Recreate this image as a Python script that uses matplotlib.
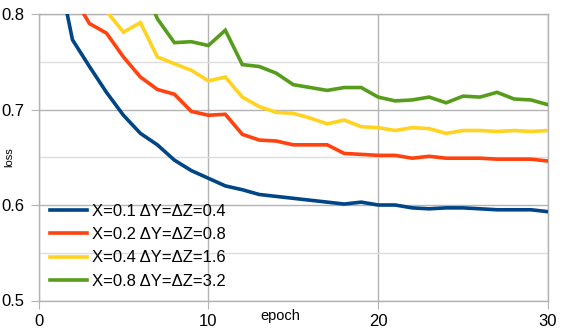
import matplotlib
matplotlib.use("Agg")
import matplotlib.pyplot as plt
from matplotlib.ticker import MultipleLocator

plt.rcParams['font.family'] = ['Liberation Sans', 'DejaVu Sans']

epochs = list(range(1, 31))

loss_01 = [0.860, 0.773, 0.745, 0.718, 0.694, 0.675, 0.663, 0.647, 0.636, 0.628,
           0.620, 0.616, 0.611, 0.609, 0.607, 0.605, 0.603, 0.601, 0.603, 0.600,
           0.600, 0.597, 0.596, 0.597, 0.597, 0.596, 0.595, 0.595, 0.595, 0.593]
loss_02 = [0.880, 0.820, 0.790, 0.780, 0.755, 0.734, 0.721, 0.716, 0.698, 0.694,
           0.695, 0.674, 0.668, 0.667, 0.663, 0.663, 0.663, 0.654, 0.653, 0.652,
           0.652, 0.649, 0.651, 0.649, 0.649, 0.649, 0.648, 0.648, 0.648, 0.646]
loss_04 = [0.920, 0.870, 0.830, 0.803, 0.781, 0.791, 0.755, 0.748, 0.741, 0.730,
           0.734, 0.713, 0.703, 0.697, 0.696, 0.691, 0.685, 0.689, 0.682, 0.681,
           0.678, 0.681, 0.680, 0.675, 0.678, 0.678, 0.677, 0.678, 0.677, 0.678]
loss_08 = [0.980, 0.950, 0.920, 0.890, 0.860, 0.837, 0.795, 0.770, 0.771, 0.767,
           0.783, 0.747, 0.745, 0.738, 0.726, 0.723, 0.720, 0.723, 0.723, 0.713,
           0.709, 0.710, 0.713, 0.707, 0.714, 0.713, 0.718, 0.711, 0.710, 0.705]

labels = ["X=0.1 ΔY=ΔZ=0.4", "X=0.2 ΔY=ΔZ=0.8",
          "X=0.4 ΔY=ΔZ=1.6", "X=0.8 ΔY=ΔZ=3.2"]
colors = ["#004586", "#ff420e", "#ffd320", "#579d1c"]

fig = plt.figure(figsize=(5.68, 3.32), dpi=100)
ax = fig.add_axes([38.5 / 568, 31.5 / 332, 509.5 / 568, 286.5 / 332])

for ys, lab, c in zip([loss_01, loss_02, loss_04, loss_08], labels, colors):
    ax.plot(epochs, ys, color=c, linewidth=2.6, label=lab,
            solid_joinstyle='miter', zorder=3)

ax.set_xlim(0, 30)
ax.set_ylim(0.5, 0.8)
ax.xaxis.set_major_locator(MultipleLocator(10))
ax.yaxis.set_major_locator(MultipleLocator(0.1))
ax.yaxis.set_minor_locator(MultipleLocator(0.05))
ax.grid(which='major', color='#b3b3b3', linewidth=1.0)
ax.grid(which='minor', axis='y', color='#dddddd', linewidth=1.0)
for s in ax.spines.values():
    s.set_color('#b3b3b3')
    s.set_linewidth(1.0)
ax.tick_params(which='major', length=6, color='#b3b3b3', labelsize=12, pad=4)
ax.tick_params(which='minor', length=0)
ax.set_yticks([0.5, 0.6, 0.7, 0.8])
ax.set_yticklabels(["0.5", "0.6", "0.7", "0.8"])

ax.set_xlabel("epoch", fontsize=10.5)
ax.xaxis.set_label_coords((280 - 38.5) / 509.5, -0.03, transform=ax.transAxes)
ax.xaxis.label.set_va('top')
ax.set_ylabel("loss", fontsize=8)
ax.yaxis.set_label_coords(-0.047, 0.5)

ax.legend(loc='lower left', bbox_to_anchor=(0.0, 0.0), frameon=False,
          fontsize=12, handlelength=2.2, handletextpad=0.3,
          labelspacing=0.5, borderaxespad=0.3)

fig.savefig("out.png", dpi=100)
